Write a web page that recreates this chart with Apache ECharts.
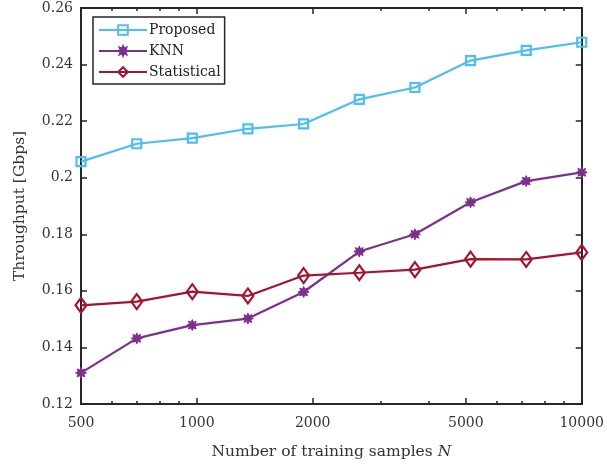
<!DOCTYPE html>
<html>
<head>
<meta charset="utf-8">
<script src="https://cdn.jsdelivr.net/npm/echarts@6/dist/echarts.min.js"></script>
<style>
  html, body { margin: 0; padding: 0; background: #fff; }
  #chart { width: 607px; height: 465px; }
</style>
</head>
<body>
<div id="chart"></div>
<script>
// training set sizes (log-spaced 500..10000)
const samples = [500, 698, 973, 1357, 1894, 2643, 3686, 5142, 7174, 10000]
const proposed = [0.2057, 0.2120, 0.2140, 0.2173, 0.2190, 0.2277, 0.2319, 0.2414, 0.2450, 0.2479]
const knn = [0.1310, 0.1432, 0.1479, 0.1502, 0.1596, 0.1739, 0.1800, 0.1913, 0.1988, 0.2019]
const statistical = [0.1549, 0.1562, 0.1597, 0.1582, 0.1654, 0.1664, 0.1675, 0.1712, 0.1711, 0.1736]
const xMajor = [500, 1000, 2000, 5000, 10000]
const xMinor = [600, 700, 800, 900, 3000, 4000, 6000, 7000, 8000, 9000]

const FONT = 'DejaVu Serif'
const AX = '#262626'
const TXT = '#333'

const COLORS = { proposed: '#4DBEEE', knn: '#7E2F8E', statistical: '#A2142F' }

// 8-pointed star, looks like matlab's '*' marker
function starPath() {
  let d = 'path://'
  for (let k = 0; k < 16; k++) {
    const a = k * Math.PI / 8
    const r = k % 2 === 0 ? 10 : 5.5
    d += (k === 0 ? 'M' : 'L') + (r * Math.sin(a)).toFixed(2) + ',' + (-r * Math.cos(a)).toFixed(2) + ' '
  }
  return d + 'Z'
}
const asterisk = starPath()

function pairs(ys) {
  return samples.map((x, i) => [x, ys[i]])
}

const chart = echarts.init(document.getElementById('chart'), null, { renderer: 'canvas' })

function xAxisDef(pos, ticks, len, showLabel, showName) {
  return {
    type: 'log', logBase: 10, min: 500, max: 10000, position: pos,
    axisLine: { show: true, onZero: false, lineStyle: { color: AX, width: 2 } },
    axisTick: { show: true, inside: true, length: len, customValues: ticks, lineStyle: { color: AX, width: 1.5 } },
    axisLabel: {
      show: showLabel, customValues: xMajor, margin: 12,
      fontFamily: FONT, fontSize: 14, color: TXT,
      formatter: v => String(Math.round(v))
    },
    splitLine: { show: false },
    minorTick: { show: false },
    name: showName ? '{t|Number of training samples }{i|N}' : '',
    nameLocation: 'middle', nameGap: 40,
    nameTextStyle: {
      rich: {
        t: { fontFamily: FONT, fontSize: 15.5, color: TXT },
        i: { fontFamily: FONT, fontSize: 15.5, color: TXT, fontStyle: 'italic' }
      }
    }
  }
}

function yAxisDef(pos, showLabel) {
  return {
    type: 'value', min: 0.12, max: 0.26, interval: 0.02, position: pos,
    axisLine: { show: true, onZero: false, lineStyle: { color: AX, width: 2 } },
    axisTick: { show: true, inside: true, length: 6, lineStyle: { color: AX, width: 1.5 } },
    axisLabel: {
      show: showLabel, margin: 8, fontFamily: FONT, fontSize: 14, color: TXT,
      formatter: v => String(parseFloat(v.toFixed(2)))
    },
    splitLine: { show: false },
    name: showLabel ? 'Throughput [Gbps]' : '',
    nameLocation: 'middle', nameGap: 53,
    nameTextStyle: { fontFamily: FONT, fontSize: 15.5, color: TXT }
  }
}

function lineSeries(name, ys, color, symbol, size, filled) {
  return {
    name, type: 'line', data: pairs(ys),
    xAxisIndex: 0, yAxisIndex: 0,
    symbol, symbolSize: size, showAllSymbol: true,
    lineStyle: { color, width: 2.2 },
    itemStyle: filled
      ? { color, borderColor: color, borderWidth: 1 }
      : { color: 'rgba(255,255,255,0)', borderColor: color, borderWidth: 2.2 },
    emphasis: { disabled: true },
    z: 3
  }
}

const option = {
  animation: false,
  backgroundColor: '#fff',
  grid: { left: 81, right: 22, top: 8, bottom: 57, containLabel: false },
  xAxis: [
    xAxisDef('bottom', xMajor, 6, true, true),
    xAxisDef('bottom', xMinor, 3, false, false),
    xAxisDef('top', xMajor, 6, false, false),
    xAxisDef('top', xMinor, 3, false, false)
  ],
  yAxis: [yAxisDef('left', true), yAxisDef('right', false)],
  legend: {
    left: 93, top: 17, orient: 'vertical',
    backgroundColor: '#fff', borderColor: AX, borderWidth: 1.5, borderRadius: 0,
    padding: [6, 4, 5, 5],
    itemWidth: 48, itemHeight: 12, itemGap: 7,
    textStyle: { fontFamily: FONT, fontSize: 14, color: '#222', padding: [0, 0, 0, -3] },
    data: ['Proposed', 'KNN', 'Statistical']
  },
  series: [
    lineSeries('Proposed', proposed, COLORS.proposed, 'rect', 9, false),
    lineSeries('KNN', knn, COLORS.knn, asterisk, 11, true),
    lineSeries('Statistical', statistical, COLORS.statistical, 'diamond', [11, 15], false)
  ]
}

chart.setOption(option)
</script>
</body>
</html>
